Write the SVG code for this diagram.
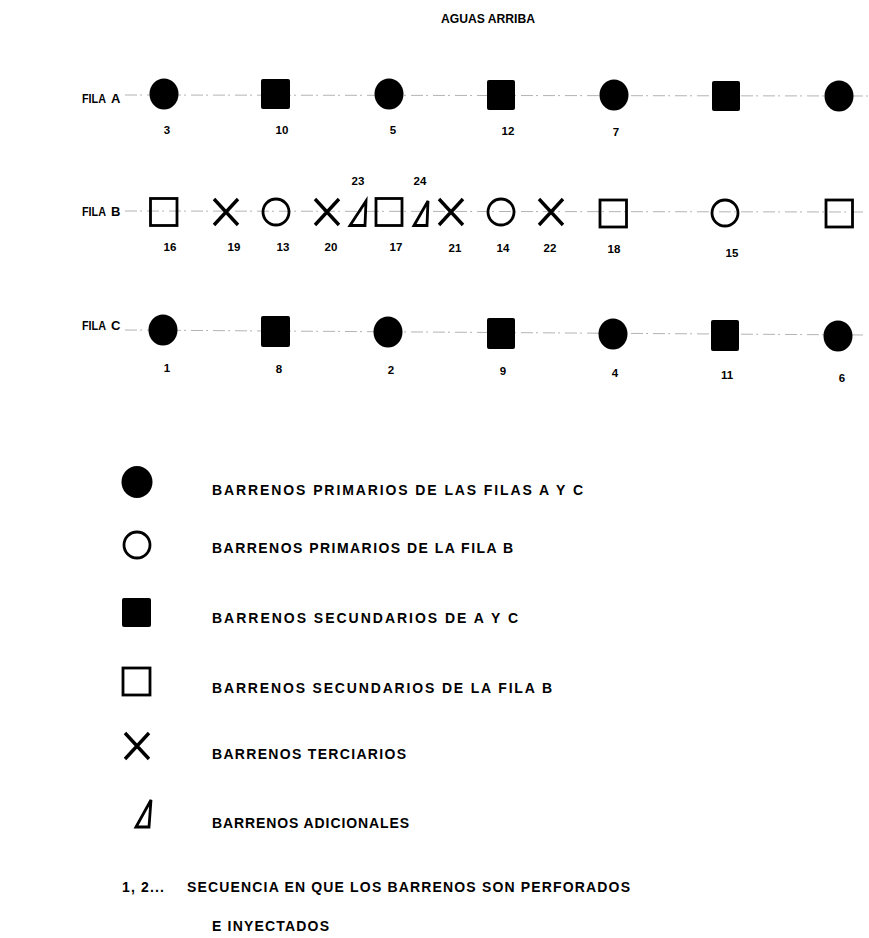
<svg xmlns="http://www.w3.org/2000/svg" width="869" height="938" viewBox="0 0 869 938">
<style>
.t{font-family:"Liberation Sans",Arial,sans-serif;font-weight:bold;fill:#000}
.lbl{font-size:11.5px}
.leg{font-size:14px}
.row{font-size:13px}
.fill{fill:#000;stroke:none}
.open{fill:none;stroke:#000;stroke-width:2.8}
.x{stroke:#000;stroke-width:3.4;stroke-linecap:butt;fill:none}
.tri{fill:none;stroke:#000;stroke-width:2.8;stroke-linejoin:miter}
.conn{stroke:#aaaaaa;stroke-width:0.9;stroke-dasharray:12 3 2 5;fill:none}
</style>
<rect width="869" height="938" fill="#fff"/>
<text class="t row" x="441" y="23" textLength="94" lengthAdjust="spacingAndGlyphs">AGUAS ARRIBA</text>
<text class="t row" y="103"><tspan x="82" textLength="24" lengthAdjust="spacingAndGlyphs">FILA</tspan><tspan x="111">A</tspan></text>
<text class="t row" y="216"><tspan x="82" textLength="24" lengthAdjust="spacingAndGlyphs">FILA</tspan><tspan x="111">B</tspan></text>
<text class="t row" y="330"><tspan x="82" textLength="24" lengthAdjust="spacingAndGlyphs">FILA</tspan><tspan x="111">C</tspan></text>
<g id="connectors">
<line class="conn" x1="125" y1="95" x2="868" y2="96"/>
<line class="conn" x1="125" y1="211" x2="864" y2="212"/>
<line class="conn" x1="125" y1="330" x2="866" y2="335"/>
</g>
<g id="A3"><ellipse class="fill" cx="164" cy="94" rx="14.5" ry="15.5"/><text class="t lbl" x="167" y="134" text-anchor="middle">3</text></g>
<g id="A10"><rect class="fill" x="261" y="79" width="29" height="30" rx="2"/><text class="t lbl" x="282" y="134" text-anchor="middle">10</text></g>
<g id="A5"><ellipse class="fill" cx="389" cy="94" rx="14.5" ry="15.5"/><text class="t lbl" x="393" y="134" text-anchor="middle">5</text></g>
<g id="A12"><rect class="fill" x="487" y="80" width="28" height="30" rx="2"/><text class="t lbl" x="508" y="135" text-anchor="middle">12</text></g>
<g id="A7"><ellipse class="fill" cx="614" cy="95" rx="14.5" ry="15.5"/><text class="t lbl" x="616" y="136" text-anchor="middle">7</text></g>
<g id="A-sq3"><rect class="fill" x="712" y="81" width="28" height="30" rx="2"/></g>
<g id="A-c4"><ellipse class="fill" cx="839" cy="96" rx="14.5" ry="15.5"/></g>

<g id="B16"><rect class="open" x="150.5" y="198.5" width="26.5" height="27"/><text class="t lbl" x="170" y="251" text-anchor="middle">16</text></g>
<g id="B19"><path class="x" d="M214 199 L238 225 M238 199 L214 225"/><text class="t lbl" x="234" y="251" text-anchor="middle">19</text></g>
<g id="B13"><circle class="open" cx="276" cy="212" r="13"/><text class="t lbl" x="283" y="251" text-anchor="middle">13</text></g>
<g id="B20"><path class="x" d="M315 199 L339 225 M339 199 L315 225"/><text class="t lbl" x="331" y="251" text-anchor="middle">20</text></g>
<g id="B23"><path class="tri" d="M350 225.5 L366 201 L365 225.5 Z"/><text class="t lbl" x="358" y="185" text-anchor="middle">23</text></g>
<g id="B17"><rect class="open" x="376" y="198.5" width="26" height="27"/><text class="t lbl" x="396" y="251" text-anchor="middle">17</text></g>
<g id="B24"><path class="tri" d="M414 225.5 L428 201 L427 225.5 Z"/><text class="t lbl" x="420" y="185" text-anchor="middle">24</text></g>
<g id="B21"><path class="x" d="M439 199 L463 225 M463 199 L439 225"/><text class="t lbl" x="455" y="252" text-anchor="middle">21</text></g>
<g id="B14"><circle class="open" cx="501" cy="212" r="13"/><text class="t lbl" x="503" y="252" text-anchor="middle">14</text></g>
<g id="B22"><path class="x" d="M539 199 L563 225 M563 199 L539 225"/><text class="t lbl" x="550" y="252" text-anchor="middle">22</text></g>
<g id="B18"><rect class="open" x="600" y="200" width="26.5" height="27"/><text class="t lbl" x="614" y="253" text-anchor="middle">18</text></g>
<g id="B15"><circle class="open" cx="725" cy="213" r="13"/><text class="t lbl" x="732" y="257" text-anchor="middle">15</text></g>
<g id="B-sq5"><rect class="open" x="826" y="200" width="26.5" height="27"/></g>

<g id="C1"><ellipse class="fill" cx="163" cy="330" rx="14.5" ry="15.5"/><text class="t lbl" x="167" y="372" text-anchor="middle">1</text></g>
<g id="C8"><rect class="fill" x="261" y="316" width="29" height="31" rx="2"/><text class="t lbl" x="279" y="373" text-anchor="middle">8</text></g>
<g id="C2"><ellipse class="fill" cx="388" cy="332" rx="14.5" ry="15.5"/><text class="t lbl" x="391" y="374" text-anchor="middle">2</text></g>
<g id="C9"><rect class="fill" x="487" y="318" width="28" height="31" rx="2"/><text class="t lbl" x="503" y="375" text-anchor="middle">9</text></g>
<g id="C4"><ellipse class="fill" cx="613" cy="334" rx="14.5" ry="15.5"/><text class="t lbl" x="615" y="377" text-anchor="middle">4</text></g>
<g id="C11"><rect class="fill" x="711" y="320" width="28" height="31" rx="2"/><text class="t lbl" x="727" y="379" text-anchor="middle">11</text></g>
<g id="C6"><ellipse class="fill" cx="838" cy="336" rx="14.5" ry="15.5"/><text class="t lbl" x="842" y="382" text-anchor="middle">6</text></g>

<g id="legend-primary-AC"><ellipse class="fill" cx="137" cy="482" rx="15.5" ry="16"/><text class="t leg" x="212" y="495" textLength="371">BARRENOS PRIMARIOS DE LAS FILAS  A Y C</text></g>
<g id="legend-primary-B"><circle class="open" cx="137" cy="545" r="13"/><text class="t leg" x="212" y="553" textLength="301">BARRENOS PRIMARIOS DE LA FILA  B</text></g>
<g id="legend-secondary-AC"><rect class="fill" x="122" y="598" width="29" height="29" rx="2"/><text class="t leg" x="212" y="623" textLength="306">BARRENOS SECUNDARIOS DE A Y C</text></g>
<g id="legend-secondary-B"><rect class="open" x="123" y="668" width="27" height="27"/><text class="t leg" x="212" y="693" textLength="340">BARRENOS SECUNDARIOS DE LA FILA  B</text></g>
<g id="legend-tertiary"><path class="x" d="M125 733 L149 759 M149 733 L125 759"/><text class="t leg" x="212" y="759" textLength="194">BARRENOS TERCIARIOS</text></g>
<g id="legend-additional"><path class="tri" d="M136 827 L151 800 L149 827 Z"/><text class="t leg" x="212" y="828" textLength="197">BARRENOS ADICIONALES</text></g>
<g id="legend-sequence"><text class="t leg" x="122" y="892" textLength="42">1, 2...</text><text class="t leg" x="187" y="892" textLength="443">SECUENCIA EN QUE LOS BARRENOS SON PERFORADOS</text><text class="t leg" x="212" y="931" textLength="117">E INYECTADOS</text></g>
</svg>
